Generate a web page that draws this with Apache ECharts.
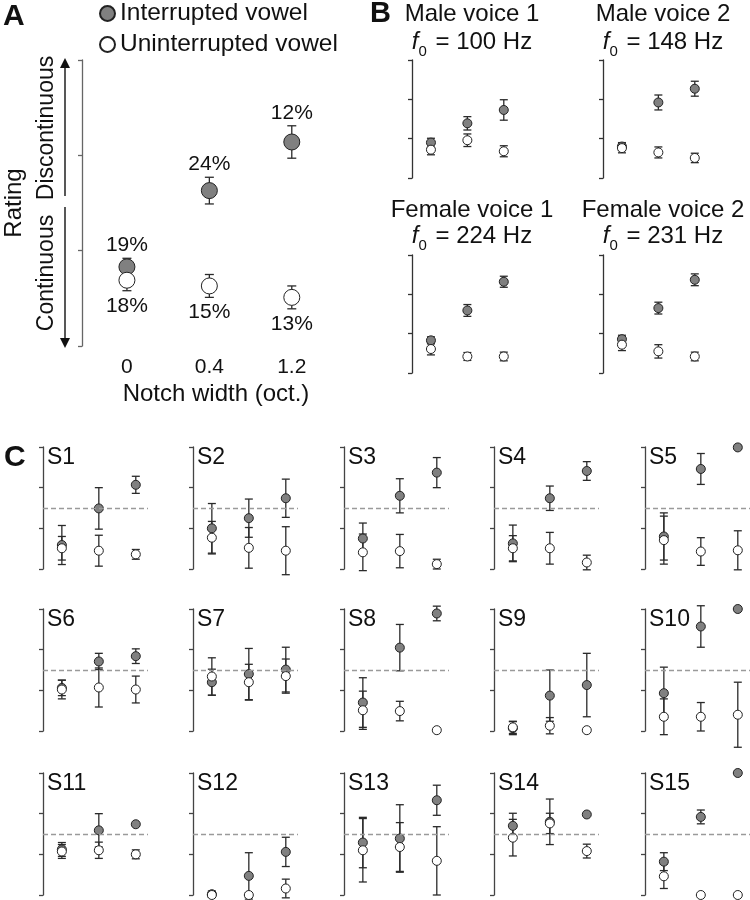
<!DOCTYPE html>
<html><head><meta charset="utf-8">
<script src="https://cdn.jsdelivr.net/npm/echarts@6/dist/echarts.min.js"></script>
<style>html,body{margin:0;padding:0;background:#fff}#chart{width:750px;height:900px}</style>
</head><body><div id="chart"></div>
<script>
// ---------- DATA ----------
const notchLabels = ['0', '0.4', '1.2'];
const midRating = 2.5;
const seriesNames = ['Interrupted vowel', 'Uninterrupted vowel'];

// Panel A (rating scale 1..4)
const aInterrupted = [1.83, 2.63, 3.14];
const aInterruptedErr = [0.09, 0.14, 0.17];
const aUninterrupted = [1.69, 1.63, 1.51];
const aUninterruptedErr = [0.11, 0.12, 0.12];
const aInterruptedPct = ['19%', '24%', '12%'];
const aUninterruptedPct = ['18%', '15%', '13%'];

// Panel B
const bTitles = ['Male voice 1', 'Male voice 2', 'Female voice 1', 'Female voice 2'];
const bF0 = ['100', '148', '224', '231'];
const bInterrupted = [[1.90, 2.39, 2.73], [1.80, 2.92, 3.27], [1.83, 2.59, 3.32], [1.86, 2.65, 3.37]];
const bInterruptedErr = [[0.11, 0.17, 0.26], [0.10, 0.19, 0.19], [0.09, 0.15, 0.14], [0.10, 0.15, 0.15]];
const bUninterrupted = [[1.72, 1.96, 1.68], [1.76, 1.65, 1.51], [1.61, 1.42, 1.42], [1.72, 1.55, 1.42]];
const bUninterruptedErr = [[0.13, 0.16, 0.14], [0.12, 0.14, 0.12], [0.15, 0.10, 0.11], [0.15, 0.17, 0.11]];

// Panel C (subjects)
const cSubjects = ['S1','S2','S3','S4','S5','S6','S7','S8','S9','S10','S11','S12','S13','S14','S15'];
const cInterrupted = [
  [1.59, 2.49, 3.07], [2.00, 2.25, 2.74], [1.75, 2.80, 3.37], [1.63, 2.74, 3.41], [1.80, 3.46, 3.99],
  [2.06, 2.71, 2.84], [2.20, 2.40, 2.51], [1.70, 3.05, 3.89], [1.07, 1.87, 2.13], [1.93, 3.57, 4.00],
  [2.12, 2.59, 2.74], [1.02, 1.47, 2.06], [2.29, 2.39, 3.33], [2.70, 2.80, 2.98], [1.82, 2.92, 4.00]
];
const cInterruptedErr = [
  [0.48, 0.51, 0.21], [0.61, 0.47, 0.47], [0.38, 0.42, 0.37], [0.45, 0.30, 0.23], [0.58, 0.38, 0.05],
  [0.19, 0.20, 0.18], [0.32, 0.63, 0.55], [0.61, 0.57, 0.18], [0.16, 0.63, 0.78], [0.64, 0.51, 0],
  [0.17, 0.41, 0], [0.08, 0.57, 0.36], [0.62, 0.83, 0.37], [0.31, 0.56, 0], [0.22, 0.17, 0]
];
const cUninterrupted = [
  [1.51, 1.45, 1.36], [1.77, 1.52, 1.45], [1.41, 1.44, 1.12], [1.51, 1.51, 1.16], [1.71, 1.43, 1.46],
  [2.02, 2.07, 2.02], [2.34, 2.20, 2.35], [1.51, 1.49, 1.02], [1.09, 1.13, 1.02], [1.35, 1.35, 1.40],
  [2.07, 2.10, 2.00], [1.00, 1.00, 1.16], [2.10, 2.18, 1.84], [2.41, 2.76, 2.08], [1.46, 1.00, 1.00]
];
const cUninterruptedErr = [
  [0.29, 0.38, 0.12], [0.40, 0.50, 0.59], [0.45, 0.41, 0.12], [0.31, 0.39, 0.18], [0.59, 0.34, 0.48],
  [0.23, 0.48, 0.33], [0.46, 0.44, 0.42], [0.47, 0.24, 0], [0.15, 0.20, 0], [0.44, 0.35, 0.80],
  [0.17, 0.20, 0.11], [0.05, 0.05, 0.23], [0.78, 0.60, 0.84], [0.45, 0.25, 0.17], [0.30, 0, 0]
];

// ---------- STYLE / LAYOUT ----------
const FONT = '"Liberation Sans", Arial, Helvetica, sans-serif';
const TXT = '#111';
const GRAY_FILL = '#808080';
const EDGE = '#222';

const option = {
  animation: false,
  backgroundColor: '#fff',
  grid: [], xAxis: [], yAxis: [], series: [], graphic: [],
  legend: {
    data: seriesNames, orient: 'vertical', left: 99, top: 1, padding: 0,
    itemWidth: 15, itemHeight: 15, itemGap: 6, icon: 'circle', selectedMode: false,
    textStyle: { fontSize: 24.5, fontFamily: FONT, color: TXT }
  }
};

function errRender(cap, labels, dir, labelFont) {
  return function (params, api) {
    const x = api.value(0), y = api.value(1), e = api.value(2);
    const hi = api.coord([x, y + e]);
    const lo = api.coord([x, y - e]);
    const children = [];
    const ls = { stroke: '#2a2a2a', lineWidth: 1.3 };
    if (e > 0) {
      children.push({ type: 'line', shape: { x1: hi[0], y1: hi[1], x2: lo[0], y2: lo[1] }, style: ls });
      children.push({ type: 'line', shape: { x1: hi[0] - cap, y1: hi[1], x2: hi[0] + cap, y2: hi[1] }, style: ls });
      children.push({ type: 'line', shape: { x1: lo[0] - cap, y1: lo[1], x2: lo[0] + cap, y2: lo[1] }, style: ls });
    }
    if (labels) {
      const yy = dir < 0 ? hi[1] - 13 : lo[1] + 15;
      children.push({ type: 'text', x: hi[0], y: yy,
        style: { text: labels[params.dataIndex], align: 'center', verticalAlign: 'middle',
                 textAlign: 'center', textVerticalAlign: 'middle', font: labelFont, fill: TXT } });
    }
    return { type: 'group', children };
  };
}

function addPanel(p) {
  const gi = option.grid.length;
  option.grid.push({ left: p.left, top: p.top, width: p.width, height: p.height });
  option.xAxis.push({
    type: 'value', gridIndex: gi, min: p.xMin, max: p.xMax,
    axisLine: { show: false }, axisTick: { show: false }, splitLine: { show: false },
    axisLabel: p.showX ? {
      show: true, customValues: [0, 1, 2], margin: 11,
      formatter: v => notchLabels[Math.round(v)],
      fontSize: 21, fontFamily: FONT, color: TXT
    } : { show: false }
  });
  option.yAxis.push({
    type: 'value', gridIndex: gi, min: 1, max: 4, interval: 1,
    axisLine: { show: true, onZero: false, lineStyle: { color: p.axisColor, width: 1.3 } },
    axisTick: { show: true, inside: false, length: 4, lineStyle: { color: p.axisColor, width: 1.3 } },
    axisLabel: { show: false }, splitLine: { show: false }
  });
  const mk = (arr) => arr.map((v, i) => [i, v]);
  const mkE = (arr, err) => arr.map((v, i) => [i, v, err[i]]);
  option.series.push({
    type: 'custom', xAxisIndex: gi, yAxisIndex: gi, clip: false, z: 2, silent: true,
    renderItem: errRender(p.cap, p.pctInt, -1, p.labelFont),
    data: mkE(p.int, p.intErr)
  });
  option.series.push({
    type: 'custom', xAxisIndex: gi, yAxisIndex: gi, clip: false, z: 2, silent: true,
    renderItem: errRender(p.cap, p.pctUnint, 1, p.labelFont),
    data: mkE(p.unint, p.unintErr)
  });
  const intSeries = {
    type: 'scatter', name: seriesNames[0], xAxisIndex: gi, yAxisIndex: gi, clip: false, z: 3,
    symbol: 'circle', symbolSize: p.size, silent: true,
    itemStyle: { color: GRAY_FILL, borderColor: EDGE, borderWidth: 1, opacity: 1 },
    data: mk(p.int)
  };
  if (p.dashed) {
    intSeries.markLine = {
      silent: true, symbol: ['none', 'none'], label: { show: false },
      lineStyle: { type: [5, 3], color: '#9a9a9a', width: 1.3 },
      emphasis: { disabled: true },
      data: [{ yAxis: midRating }]
    };
  }
  option.series.push(intSeries);
  option.series.push({
    type: 'scatter', name: seriesNames[1], xAxisIndex: gi, yAxisIndex: gi, clip: false, z: 4,
    symbol: 'circle', symbolSize: p.size, silent: true,
    itemStyle: { color: '#ffffff', borderColor: EDGE, borderWidth: 1, opacity: 1 },
    data: mk(p.unint)
  });
}

function txt(x, y, text, size, extra) {
  const o = Object.assign({ type: 'text', x: x, y: y, silent: true,
    style: Object.assign({ text: text, font: size + 'px ' + FONT, fill: TXT,
      align: 'center', verticalAlign: 'middle', textAlign: 'center', textVerticalAlign: 'middle' },
      (extra && extra.style) || {}) }, (extra && extra.el) || {});
  option.graphic.push(o);
}

// ---------- PANEL A ----------
addPanel({
  left: 82, top: 60, width: 251, height: 286, xMin: -0.545, xMax: 2.5,
  int: aInterrupted, intErr: aInterruptedErr, unint: aUninterrupted, unintErr: aUninterruptedErr,
  size: 16, cap: 4.5, axisColor: '#666', showX: true,
  pctInt: aInterruptedPct, pctUnint: aUninterruptedPct, labelFont: '21px ' + FONT
});
txt(15, 17, 'A', 30, { style: { font: 'bold 30px ' + FONT, align: 'left', textAlign: 'left' }, el: { x: 3 } });
txt(216, 394, 'Notch width (oct.)', 24);
txt(14, 203, 'Rating', 24, { el: { rotation: Math.PI / 2 } });
txt(47, 128, 'Discontinuous', 23, { el: { rotation: Math.PI / 2 } });
txt(47, 273, 'Continuous', 23, { el: { rotation: Math.PI / 2 } });
// double-headed arrow
option.graphic.push({ type: 'line', silent: true, shape: { x1: 65, y1: 66, x2: 65, y2: 196 }, style: { stroke: '#111', lineWidth: 1.4 } });
option.graphic.push({ type: 'line', silent: true, shape: { x1: 65, y1: 207, x2: 65, y2: 340 }, style: { stroke: '#111', lineWidth: 1.4 } });
option.graphic.push({ type: 'polygon', silent: true, shape: { points: [[65, 58], [60, 68], [70, 68]] }, style: { fill: '#111' } });
option.graphic.push({ type: 'polygon', silent: true, shape: { points: [[65, 348], [60, 338], [70, 338]] }, style: { fill: '#111' } });

// ---------- PANEL B ----------
const bLeft = [412, 603, 412, 603];
const bTop = [60, 60, 255, 255];
const bTitleY = [14, 14, 210, 210];
const bF0Y = [42, 42, 236, 236];
txt(370, 14, 'B', 29, { style: { font: 'bold 29px ' + FONT, align: 'left', textAlign: 'left' } });
for (let k = 0; k < 4; k++) {
  addPanel({
    left: bLeft[k], top: bTop[k], width: 110, height: 118, xMin: -0.52, xMax: 2.5,
    int: bInterrupted[k], intErr: bInterruptedErr[k], unint: bUninterrupted[k], unintErr: bUninterruptedErr[k],
    size: 9, cap: 4, axisColor: '#333'
  });
  const cx = bLeft[k] + 60;
  txt(cx, bTitleY[k], bTitles[k], 24);
  option.graphic.push({
    type: 'text', x: cx, y: bF0Y[k], silent: true,
    style: {
      text: '{f|f}{s|0}{n| = ' + bF0[k] + ' Hz}',
      align: 'center', verticalAlign: 'middle', textAlign: 'center', textVerticalAlign: 'middle',
      font: '24px ' + FONT, fill: TXT,
      rich: {
        f: { fontSize: 24, fontFamily: FONT, fontStyle: 'italic', fill: TXT, color: TXT },
        s: { fontSize: 15, fontFamily: FONT, padding: [20, 2, 0, 0], fill: TXT, color: TXT },
        n: { fontSize: 24, fontFamily: FONT, fill: TXT, color: TXT }
      }
    }
  });
}

// ---------- PANEL C ----------
const cLeft = [43, 193, 344, 494, 645];
const cTop = [447, 609, 773];
txt(4, 458, 'C', 30, { style: { font: 'bold 30px ' + FONT, align: 'left', textAlign: 'left' } });
for (let s = 0; s < cSubjects.length; s++) {
  const col = s % 5, row = Math.floor(s / 5);
  addPanel({
    left: cLeft[col], top: cTop[row], width: 105, height: 122, xMin: -0.51, xMax: 2.33,
    int: cInterrupted[s], intErr: cInterruptedErr[s], unint: cUninterrupted[s], unintErr: cUninterruptedErr[s],
    size: 9, cap: 4, axisColor: '#444', dashed: true
  });
  txt(cLeft[col] + 4, cTop[row] + 11, cSubjects[s], 23, { style: { align: 'left', textAlign: 'left' } });
}

const chart = echarts.init(document.getElementById('chart'), null, { renderer: 'canvas' });
chart.setOption(option);
</script>
</body></html>
